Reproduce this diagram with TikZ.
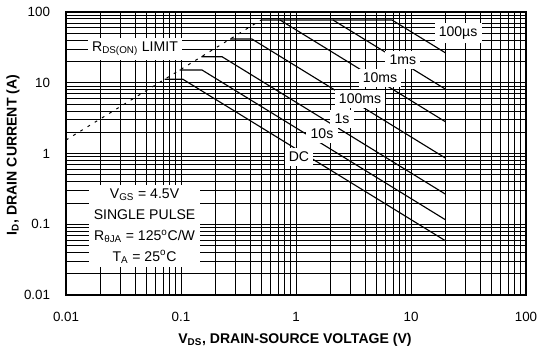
\documentclass[tikz,border=0pt]{standalone}
\usepackage{fontspec}
\setmainfont{Liberation Sans}

\begin{document}
\begin{tikzpicture}[x=2.875cm,y=1.76875cm,
  gridline/.style={line width=0.55pt},
  soa/.style={line width=0.8pt},
  tag/.style={fill=white,inner xsep=3pt,inner ysep=2.8pt,font=\fontsize{10}{12}\selectfont},
  tick/.style={font=\fontsize{9.5}{11}\selectfont}]

\useasboundingbox (-2.574,-2.862) rectangle (2.113,2.170);

% log grid
\foreach \d in {-2,-1,0,1}{
  \foreach \m in {1,...,9}{
    \draw[gridline] ({\d+log10(\m)},-2) -- ({\d+log10(\m)},2);
    \draw[gridline] (-2,{\d+log10(\m)}) -- (2,{\d+log10(\m)});
  }
}

% safe operating area curves
\draw[soa] (-0.304,1.887) -- (0.835,1.887) -- (1.301,1.421);
\draw[soa] (0.322,1.887) -- (1.301,0.908);
\draw[soa] (-0.139,1.887) -- (1.301,0.447);
\draw[soa] (-0.573,1.618) -- (-0.383,1.618) -- (1.301,-0.066);
\draw[soa] (-0.823,1.368) -- (-0.643,1.368) -- (1.301,-0.576);
\draw[soa] (-1.011,1.180) -- (-0.817,1.180) -- (1.301,-0.938);
\draw[soa] (-1.142,1.049) -- (-0.983,1.049) -- (1.301,-1.235);

% Rds(on) limit
\draw[line width=0.7pt,dash pattern=on 2pt off 4pt] (-2,0.191) -- (-0.304,1.887);

\node[tag] (rds) at (-1.400,1.477) {R\textsubscript{DS(ON)} LIMIT};
\node[tag] (t100us) at (1.409,1.703) {100µs};
\node[tag] (t1ms) at (0.930,1.322) {1ms};
\node[tag] (t10ms) at (0.730,1.067) {10ms};
\node[tag] (t100ms) at (0.557,0.770) {100ms};
\node[tag] (t1s) at (0.400,0.488) {1s};
\node[tag] (t10s) at (0.226,0.276) {10s};
\node[tag] (tdc) at (0.026,-0.049) {DC};

\node[fill=white,inner sep=0pt,minimum width=2.775cm,minimum height=2.05cm,
  align=center,font=\fontsize{10}{14.8}\selectfont] (cond) at (-1.317,-1.025)
  {V\textsubscript{GS} = 4.5V\\SINGLE PULSE\\R\textsubscript{θJA} = 125\textsuperscript{o}C/W\\T\textsubscript{A} = 25\textsuperscript{o}C};

\draw[line width=1pt] (-2,-2) rectangle (2,2);

% axis numbers
\foreach \v/\t/\n in {-2/0.01/a,-1/0.1/b,0/1/c,1/10/d,2/100/e}{
  \node[tick,anchor=east] (y\n) at (-2.096,\v) {\t};
  \node[tick] (x\n) at (\v,-2.311) {\t};
}

\node[font=\fontsize{10}{12}\bfseries] (xtitle) at (-0.009,-2.636)
  {V\textsubscript{DS}, DRAIN-SOURCE VOLTAGE (V)};
\node[rotate=90,font=\fontsize{10}{12}\bfseries] (ytitle) at (-2.461,-0.021)
  {I\textsubscript{D}, DRAIN CURRENT (A)};
\end{tikzpicture}
\end{document}
